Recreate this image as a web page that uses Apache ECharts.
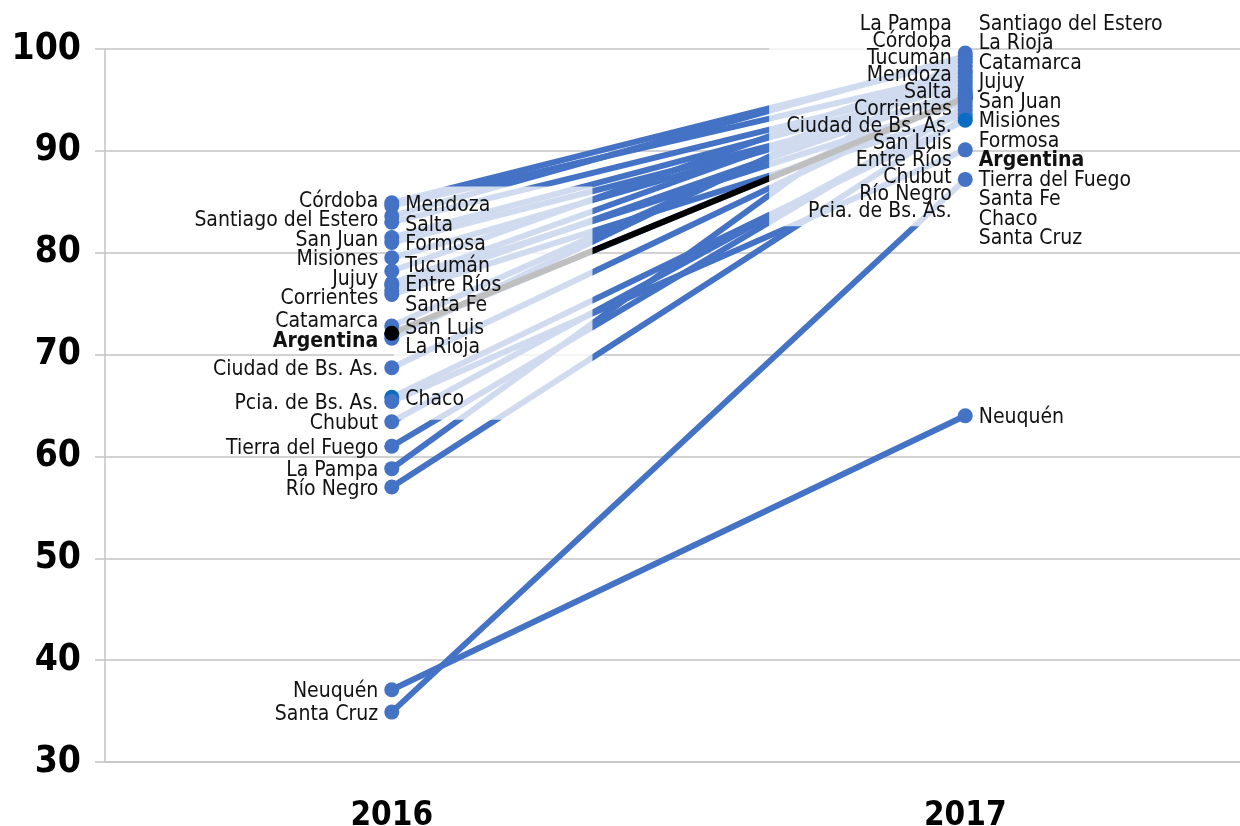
<!DOCTYPE html>
<html>
<head>
<meta charset="utf-8">
<script src="https://cdn.jsdelivr.net/npm/echarts@6/dist/echarts.min.js"></script>
<style>
  html, body { margin: 0; padding: 0; background: #fff; }
  #chart { width: 1240px; height: 826px; }
</style>
</head>
<body>
<div id="chart"></div>
<script>
// data
const years = ['2016', '2017'];
const provinces = ['Córdoba', 'Mendoza', 'Santiago del Estero', 'Salta', 'San Juan', 'Formosa', 'Misiones',
  'Tucumán', 'Jujuy', 'Entre Ríos', 'Corrientes', 'Santa Fe', 'Catamarca', 'San Luis', 'La Rioja',
  'Ciudad de Bs. As.', 'Chaco', 'Pcia. de Bs. As.', 'Chubut', 'Tierra del Fuego', 'La Pampa', 'Río Negro',
  'Neuquén', 'Santa Cruz'];
const values2016 = [84.9, 84.6, 83.6, 83.0, 81.5, 81.0, 79.5, 78.2, 77.0, 76.8, 76.3, 75.9, 72.8, 72.0, 71.6,
  68.7, 65.8, 65.4, 63.4, 61.0, 58.8, 57.0, 37.1, 34.9];
const values2017 = [99.0, 97.6, 99.3, 96.8, 96.4, 95.4, 95.7, 98.3, 97.2, 94.8, 96.0, 93.6, 97.9, 95.3, 98.7,
  95.5, 93.0, 90.1, 94.0, 94.4, 99.6, 93.3, 64.0, 87.2];
const national = 'Argentina';
const national2016 = 72.1;
const national2017 = 95.2;
const yTicks = [30, 40, 50, 60, 70, 80, 90, 100];

// which labels sit between the two columns
const inner2016 = ['Mendoza', 'Salta', 'Formosa', 'Tucumán', 'Entre Ríos', 'Santa Fe', 'San Luis', 'La Rioja', 'Chaco'];
const inner2017 = ['La Pampa', 'Córdoba', 'Tucumán', 'Mendoza', 'Salta', 'Corrientes', 'Ciudad de Bs. As.',
  'San Luis', 'Entre Ríos', 'Chubut', 'Río Negro', 'Pcia. de Bs. As.'];

const FONT = '"DejaVu Sans Condensed", "DejaVu Sans", sans-serif';
const BLUE = '#4472c4';
const DARK_BLUE = '#0b6cc3';

const chart = echarts.init(document.getElementById('chart'));

const rows = provinces.map((name, i) => ({ name, v: [values2016[i], values2017[i]] }));
const nat = { name: national, v: [national2016, national2017], national: true };

const lineSeries = rows.map(r => ({
  type: 'line',
  name: r.name,
  data: r.v,
  showSymbol: false,
  silent: true,
  z: 2,
  lineStyle: { color: BLUE, width: 6 }
}));
lineSeries.push({
  type: 'line', name: national, data: nat.v, showSymbol: false, silent: true, z: 2,
  lineStyle: { color: '#000', width: 6 }
});

function dotColor(r) {
  if (r.national) return '#000';
  if (r.name === 'Chaco') return DARK_BLUE;
  return BLUE;
}

// draw order of the dots in each column
function columnRows(col) {
  const sorted = rows.slice().sort((a, b) => b.v[col] - a.v[col]);
  return col === 0 ? sorted.concat([nat]) : [nat].concat(sorted);
}

function labelSide(r, col) {
  if (col === 0) return inner2016.includes(r.name) ? 'right' : 'left';
  return inner2017.includes(r.name) ? 'left' : 'right';
}

function dotSeries(col, offsets) {
  return {
    id: 'dots' + col,
    type: 'scatter',
    z: 5,
    silent: true,
    symbolSize: 15,
    data: columnRows(col).map(r => ({
      name: r.name,
      value: [years[col], r.v[col]],
      itemStyle: { color: dotColor(r), opacity: 1 },
      label: {
        show: true,
        position: labelSide(r, col),
        distance: 6,
        offset: [0, offsets ? offsets[r.name] || 0 : 0],
        formatter: r.name,
        fontFamily: FONT,
        fontSize: 21,
        fontWeight: r.national ? 'bold' : 'normal',
        color: '#111'
      }
    }))
  };
}

const option = {
  animation: false,
  backgroundColor: '#fff',
  grid: { left: 105, width: 1147, top: 49, height: 713, outerBoundsMode: 'none', containLabel: false },
  xAxis: {
    type: 'category',
    data: years,
    boundaryGap: true,
    axisLine: { show: true, lineStyle: { color: '#c3c3c3', width: 1.5 } },
    axisTick: { show: false },
    axisLabel: { fontFamily: FONT, fontSize: 33, fontWeight: 'bold', color: '#000', margin: 38 }
  },
  yAxis: {
    type: 'value',
    min: yTicks[0],
    max: yTicks[yTicks.length - 1],
    interval: yTicks[1] - yTicks[0],
    axisLine: { show: true, lineStyle: { color: '#c3c3c3', width: 1.5 } },
    axisTick: { show: true, length: 10, lineStyle: { color: '#c3c3c3', width: 1.5 } },
    splitLine: { show: true, lineStyle: { color: '#c3c3c3', width: 1.5 } },
    axisLabel: { fontFamily: FONT, fontSize: 37, fontWeight: 'bold', color: '#000', margin: 24 }
  },
  series: lineSeries.concat([dotSeries(0), dotSeries(1)])
};
chart.setOption(option);

// spread crowded labels apart, keeping each cluster centred on its dots
function spread(items, gap, minY) {
  items.sort((a, b) => a.want - b.want);
  let blocks = items.map(it => ({ members: [it], top: Math.max(minY, it.want) }));
  let changed = true;
  while (changed) {
    changed = false;
    for (let i = 1; i < blocks.length; i++) {
      const a = blocks[i - 1], b = blocks[i];
      if (a.top + a.members.length * gap > b.top + 0.01) {
        const members = a.members.concat(b.members);
        const mean = members.reduce((s, m) => s + m.want, 0) / members.length;
        blocks.splice(i - 1, 2, { members, top: Math.max(minY, mean - (members.length - 1) * gap / 2) });
        changed = true;
        break;
      }
    }
  }
  blocks.forEach(b => b.members.forEach((m, k) => { m.pos = b.top + k * gap; }));
}

const gaps = { '0left': 19.5, '0right': 19.5, '1left': 17, '1right': 19.5 };
const px = (cat, v) => chart.convertToPixel({ gridIndex: 0 }, [cat, v]);

const offsetsByCol = [0, 1].map(col => {
  const groups = {};
  rows.concat([nat]).forEach(r => {
    const key = col + labelSide(r, col);
    (groups[key] = groups[key] || []).push({ name: r.name, want: px(years[col], r.v[col])[1] });
  });
  const off = {};
  Object.keys(groups).forEach(key => {
    spread(groups[key], gaps[key], 22.5);
    groups[key].forEach(m => { off[m.name] = m.pos - m.want + 2; });
  });
  return off;
});

// washed-out panels over parts of the lines
const x16 = px(years[0], 50)[0];
const x17 = px(years[1], 50)[0];
const dx = x17 - x16;
function panel(fx0, fx1, vTop, vBottom) {
  const yTop = px(years[0], vTop)[1];
  const yBot = px(years[0], vBottom)[1];
  return {
    type: 'rect', silent: true, z: 3,
    shape: { x: x16 + fx0 * dx, y: yTop, width: (fx1 - fx0) * dx, height: yBot - yTop },
    style: { fill: 'rgba(255,255,255,0.75)' }
  };
}

chart.setOption({
  graphic: [panel(0.004, 0.35, 86.5, 63.6), panel(0.658, 0.995, 100.8, 82.6)],
  series: [dotSeries(0, offsetsByCol[0]), dotSeries(1, offsetsByCol[1])]
});
</script>
</body>
</html>
